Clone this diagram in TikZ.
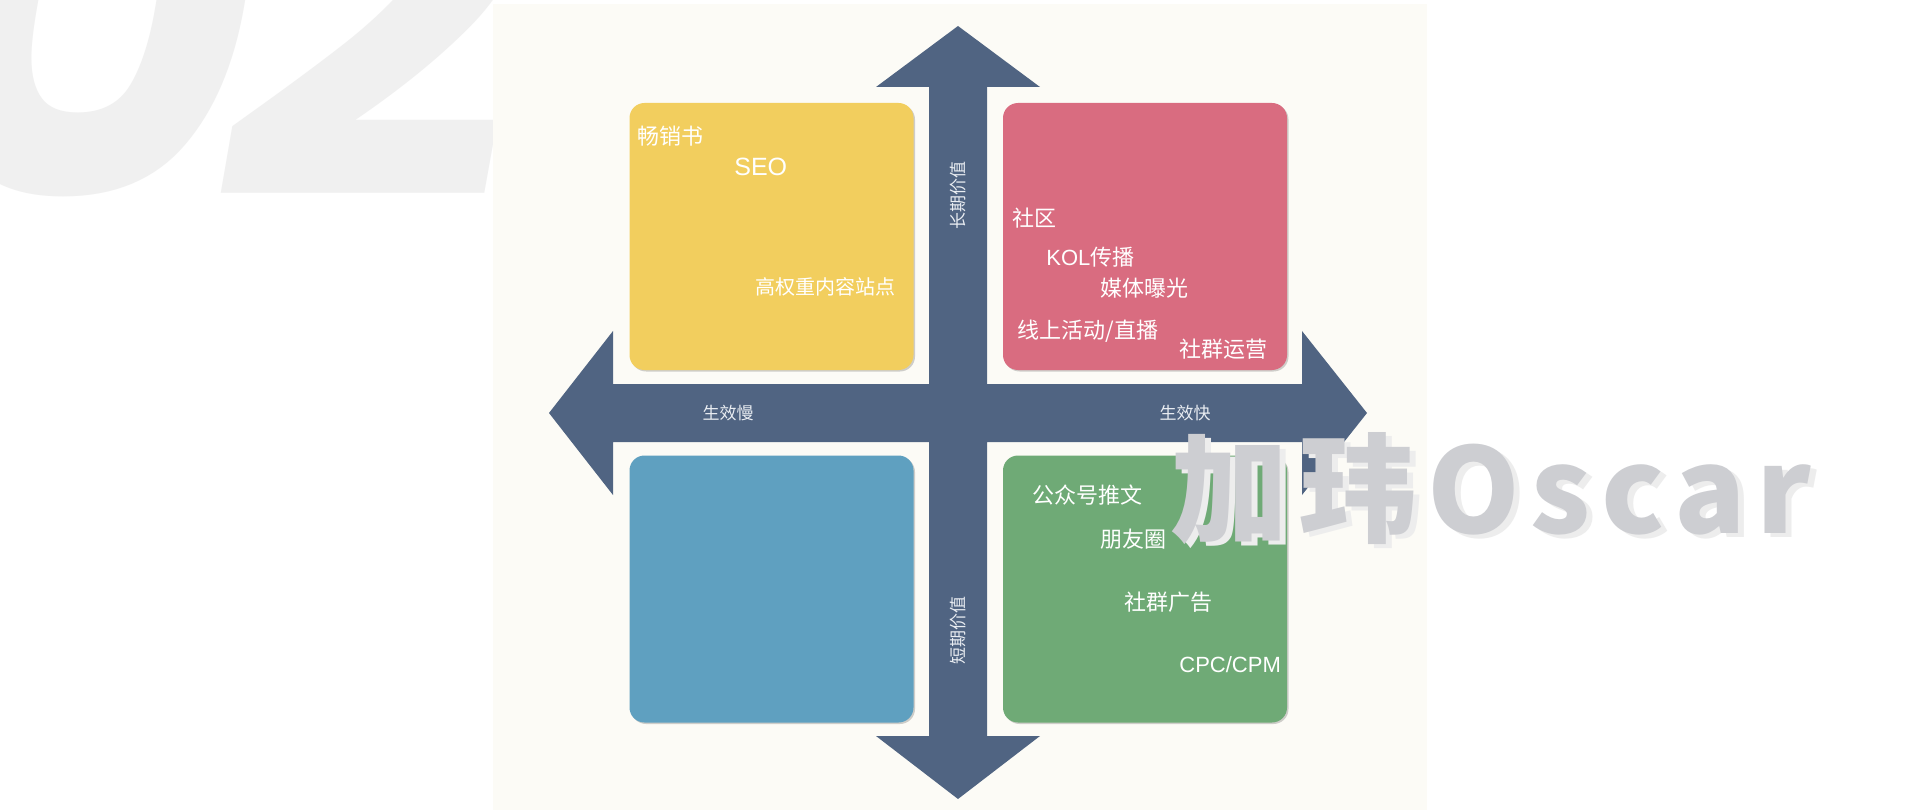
\documentclass[tikz,border=0pt]{standalone}
\usepackage{fontspec}
\setmainfont{Noto Sans CJK SC}
\newfontfamily\latfont{Liberation Sans}
\newfontfamily\markfont{Noto Sans CJK SC}[LetterSpace=9]
\newfontfamily\numfont{Poppins}
\usetikzlibrary{shadows}

\definecolor{panelcream}{HTML}{FCFBF6}
\definecolor{axisblue}{HTML}{506482}
\definecolor{axistext}{HTML}{E9EDF2}
\definecolor{qyellow}{HTML}{F2CE5E}
\definecolor{qpink}{HTML}{D96C80}
\definecolor{qblue}{HTML}{5FA0C0}
\definecolor{qgreen}{HTML}{6FAA76}
\definecolor{markgray}{HTML}{CDCED2}
\definecolor{bignum}{HTML}{F0F0F0}

\tikzset{every picture/.style={line width=0.75pt},
  quad/.style={rounded corners=15pt, minimum width=284pt, minimum height=267pt, inner sep=0pt,
    drop shadow={shadow xshift=1.5pt, shadow yshift=-1.5pt, fill=black, opacity=0.18}},
  tag/.style={text=white, inner sep=0pt, anchor=west, font=\fontsize{22}{26}\selectfont},
  axislabel/.style={text=axistext, inner sep=0pt, font=\fontsize{17}{20}\selectfont}}

\begin{document}
\begin{tikzpicture}[x=1pt,y=1pt,yscale=-1]
\useasboundingbox (0,0) rectangle (1920,810);
\clip (0,0) rectangle (1920,810);
\fill[white] (0,0) rectangle (1920,810);

%Text: chapter number behind the panel
\node[anchor=base west, inner sep=0pt, text=bignum, font=\numfont\bfseries\itshape\fontsize{525}{525}\selectfont] (chapter) at (-117,199) {\kern35pt0\kern-35pt2};

%Shape: Rectangle [panel]
\fill[panelcream] (493,4) rectangle (1427,810);

%Shape: Cross arrow
\fill[axisblue] (958,26) -- (1040,87) -- (987,87) -- (987,384) -- (1302,384) -- (1302,331) -- (1367,413) -- (1302,495) -- (1302,442) -- (987,442) -- (987,736) -- (1040,736) -- (958,799) -- (876,736) -- (929,736) -- (929,442) -- (613,442) -- (613,495) -- (549,413) -- (613,331) -- (613,384) -- (929,384) -- (929,87) -- (876,87) -- cycle;

%Shape: Quadrants
\node[quad, fill=qyellow] (slowlong) at (771.5,236.5) {};
\node[quad, fill=qpink] (fastlong) at (1145,236.5) {};
\node[quad, fill=qblue] (slowshort) at (771.5,589) {};
\node[quad, fill=qgreen] (fastshort) at (1145,589) {};

%Text: slow / long term
\node[tag] (bestseller) at (637,136) {畅销书};
\node[tag, font=\latfont\fontsize{25}{30}\selectfont] (seo) at (734,167) {SEO};
\node[tag, font=\fontsize{20}{24}\selectfont] (authsite) at (755,287) {高权重内容站点};

%Text: fast / long term
\node[tag] (community) at (1012,218) {社区};
\node[tag] (kol) at (1046,257) {{\latfont KOL}传播};
\node[tag] (media) at (1100,288) {媒体曝光};
\node[tag] (live) at (1017,331) {线上活动/直播};
\node[tag] (groupops) at (1179,349) {社群运营};

%Text: fast / short term
\node[tag] (wechat) at (1032,495) {公众号推文};
\node[tag] (moments) at (1100,539) {朋友圈};
\node[tag] (groupads) at (1124,602) {社群广告};
\node[tag, font=\latfont\fontsize{22}{26}\selectfont] (cpc) at (1179,665) {CPC/CPM};

%Text: axis labels
\node[axislabel] (slow) at (728,413) {生效慢};
\node[axislabel] (fast) at (1185,413) {生效快};
\node[axislabel, rotate=90] (longterm) at (958,196) {长期价值};
\node[axislabel, rotate=90] (shortterm) at (958,630) {短期价值};

%Text: watermark
\node[anchor=west, inner sep=0pt, text=black!7, font=\markfont\bfseries\fontsize{118}{120}\selectfont] (oscarshadow) at (1176,493) {加玮Oscar};
\node[anchor=west, inner sep=0pt, text=markgray, font=\markfont\bfseries\fontsize{118}{120}\selectfont] (oscar) at (1170,489) {加玮Oscar};

\end{tikzpicture}
\end{document}
